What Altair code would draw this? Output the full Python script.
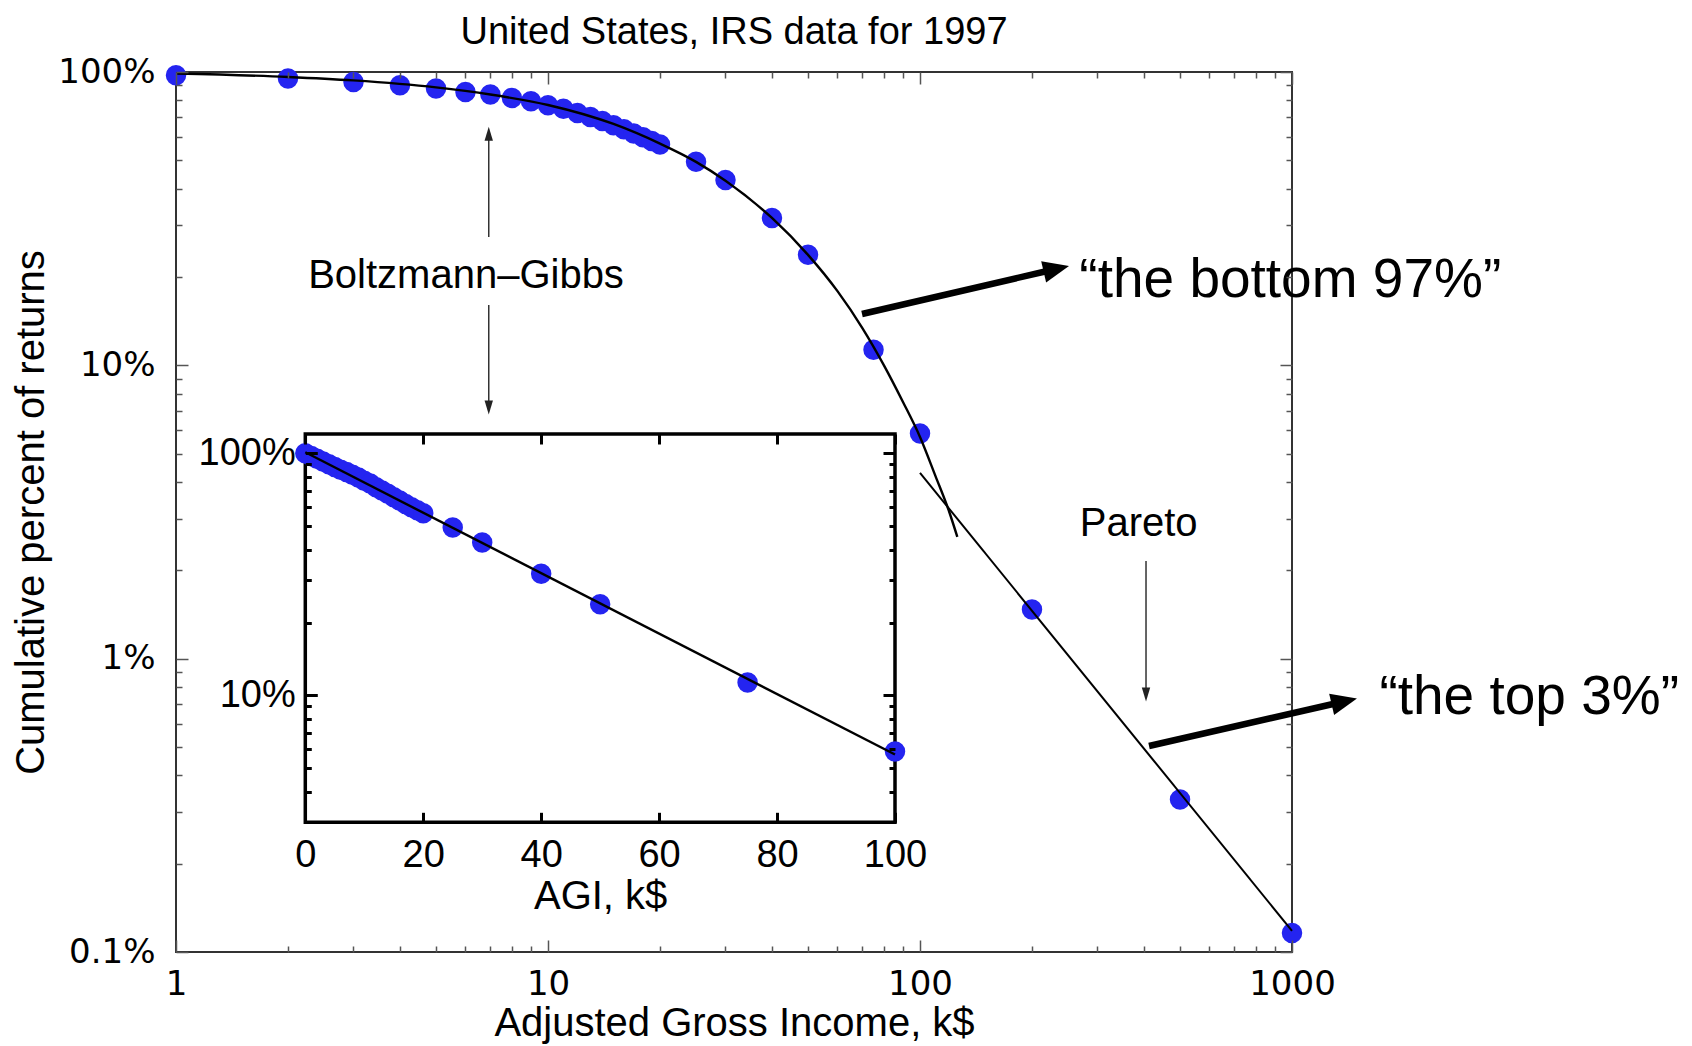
import altair as alt
import pandas as pd

# ---------------- data ----------------
agi = [1, 2, 3, 4, 5, 6, 7, 8, 9, 10, 11, 12, 13, 14, 15, 16, 17, 18, 19, 20,
       25, 30, 40, 50, 75, 100, 200, 500, 1000]
pct = [97.5, 95.0, 92.5, 90.1, 87.8, 85.5, 83.8, 81.6, 79.5, 77.0, 75.0, 72.5,
       70.3, 68.1, 65.8, 63.8, 61.7, 59.9, 58.2, 56.6,
       49.4, 42.8, 31.8, 23.8, 11.3, 5.86, 1.47, 0.331, 0.116]

# Boltzmann-Gibbs fit curve
bg_x = [1, 2, 3, 5, 7, 10, 15, 20, 25, 30, 40, 50, 60, 70, 80, 90, 100, 110, 120, 126]
bg_y = [98.8, 96.2, 93.6, 88.6, 83.8, 77.2, 66.5, 57.0, 49.4, 42.6, 31.8, 23.8,
        17.9, 13.4, 10.0, 7.5, 5.7, 4.2, 3.15, 2.6]
# Pareto fit line
par_x = [100, 1000]
par_y = [4.3, 0.118]

# inset (linear x, log y)
inset_agi = [0] + agi[:26]
inset_pct = [100.0] + pct[:26]
inset_line_x = [0, 100]
inset_line_y = [101.0, 5.7]
inset_x_domain = [0, 100]
inset_y_domain = [2.99, 120.2]

# tick values
main_x_major = [1, 10, 100, 1000]
main_x_minor = [2, 3, 4, 5, 6, 7, 8, 9, 20, 30, 40, 50, 60, 70, 80, 90,
                200, 300, 400, 500, 600, 700, 800, 900]
main_y_major = [0.1, 1, 10, 100]
main_y_minor = [0.2, 0.3, 0.4, 0.5, 0.6, 0.7, 0.8, 0.9, 2, 3, 4, 5, 6, 7, 8, 9,
                20, 30, 40, 50, 60, 70, 80, 90]
inset_x_major = [0, 20, 40, 60, 80, 100]
inset_y_major = [10, 100]
inset_y_minor = [3, 4, 5, 6, 7, 8, 9, 20, 30, 40, 50, 60, 70, 80, 90]

# annotations (data coordinates of the main panel)
lab_text = ["Boltzmann–Gibbs", "Pareto"]
lab_x = [6.02, 387]
lab_y = [18.4, 2.62]

big_text = ["“the bottom 97%”", "“the top 3%”"]
big_x = [268.1, 1718]
big_y = [17.06, 0.650]

thin_x = [6.93, 6.93, 405.1]
thin_y_from = [27.38, 16.06, 2.153]
thin_y_to = [61.95, 7.153, 0.7517]
thin_tip_y = [65.09, 6.798, 0.7150]
thin_angle = [0, 180, 180]

thick_x_from = [69.84, 412.7]
thick_y_from = [14.96, 0.5038]
thick_x_to = [222.9, 1325]
thick_y_to = [21.05, 0.7060]
thick_tip_x = [251.5, 1495]
thick_tip_y = [21.82, 0.7315]
thick_angle = [77, 77]

# ---------------- styling ----------------
FONT = "Liberation Sans"
TFONT = "DejaVu Sans"
BLUE = "#2424f0"
W, H = 1116, 880
GRAY = "#555555"
DOT = 420

MX = dict(type="log", domain=[1, 1000], nice=False)
MY = dict(type="log", domain=[0.1, 100], nice=False)
IX = dict(type="linear", domain=inset_x_domain, range=[129.3, 719.0], nice=False, zero=False)
IY = dict(type="log", domain=inset_y_domain, range=[750.3, 362.0], nice=False)

def tick_axis(orient, values, offset, size, color, width, title=None, title_pad=0):
    kw = dict(orient=orient, values=values, offset=offset, tickSize=size,
              tickColor=color, tickWidth=width, domain=False, grid=False,
              labels=False, zindex=1)
    if title:
        kw.update(title=title, titleFont=FONT, titleFontSize=40,
                  titleFontWeight="normal", titleColor="black", titlePadding=title_pad)
    else:
        kw.update(title=None)
    return alt.Axis(**kw)

main_df = pd.DataFrame({"agi": agi, "pct": pct})
bg_df = pd.DataFrame({"agi": bg_x, "pct": bg_y})
par_df = pd.DataFrame({"agi": par_x, "pct": par_y})
inset_df = pd.DataFrame({"agi": inset_agi, "pct": inset_pct})
inset_line_df = pd.DataFrame({"agi": inset_line_x, "pct": inset_line_y})
frame_df = pd.DataFrame({"x0": [inset_x_domain[0]], "x1": [inset_x_domain[1]],
                         "y0": [inset_y_domain[0]], "y1": [inset_y_domain[1]]})
lab_df = pd.DataFrame({"x": lab_x, "y": lab_y, "t": lab_text})
big_df = pd.DataFrame({"x": big_x, "y": big_y, "t": big_text})
thin_df = pd.DataFrame({"x": thin_x, "y0": thin_y_from, "y1": thin_y_to,
                        "ty": thin_tip_y, "a": thin_angle})
thick_df = pd.DataFrame({"x0": thick_x_from, "y0": thick_y_from, "x1": thick_x_to,
                         "y1": thick_y_to, "tx": thick_tip_x, "ty": thick_tip_y,
                         "a": thick_angle})

# main axes
ax_bottom_major = alt.Axis(orient="bottom", values=main_x_major, offset=-12, tickSize=12,
                           tickColor=GRAY, tickWidth=1.5, domain=False, grid=False,
                           format="d", labelFont=TFONT, labelFontSize=34, labelColor="black",
                           labelPadding=15, labelFlush=False, labelOverlap=False,
                           title=None, zindex=1)
ax_left_major = alt.Axis(orient="left", values=main_y_major, offset=-12, tickSize=12,
                         tickColor=GRAY, tickWidth=1.5, domain=False, grid=False,
                         labelExpr="datum.value + '%'", labelFont=TFONT, labelFontSize=34,
                         labelColor="black", labelPadding=21, labelFlush=False,
                         labelOverlap=False, title=None, zindex=1)

points = alt.Chart(main_df).mark_circle(size=DOT, color=BLUE, opacity=1).encode(
    x=alt.X("agi:Q", scale=alt.Scale(**MX), axis=ax_bottom_major),
    y=alt.Y("pct:Q", scale=alt.Scale(**MY), axis=ax_left_major),
)
bg_line = alt.Chart(bg_df).mark_line(color="black", strokeWidth=2.4, interpolate="monotone").encode(
    x=alt.X("agi:Q", scale=alt.Scale(**MX),
            axis=tick_axis("bottom", main_x_minor, -6, 6, GRAY, 1.5,
                           "Adjusted Gross Income, k$", 51)),
    y=alt.Y("pct:Q", scale=alt.Scale(**MY),
            axis=tick_axis("left", main_y_minor, -6, 6, GRAY, 1.5,
                           "Cumulative percent of returns", 124)),
)
par_line = alt.Chart(par_df).mark_line(color="black", strokeWidth=2).encode(
    x=alt.X("agi:Q", scale=alt.Scale(**MX), axis=tick_axis("top", main_x_major, -12, 12, GRAY, 1.5)),
    y=alt.Y("pct:Q", scale=alt.Scale(**MY), axis=tick_axis("right", main_y_major, -12, 12, GRAY, 1.5)),
)
thin_rules = alt.Chart(thin_df).mark_rule(color="#333333", strokeWidth=1.5).encode(
    x=alt.X("x:Q", scale=alt.Scale(**MX), axis=tick_axis("top", main_x_minor, -6, 6, GRAY, 1.5)),
    y=alt.Y("y0:Q", scale=alt.Scale(**MY), axis=tick_axis("right", main_y_minor, -6, 6, GRAY, 1.5)),
    y2="y1:Q",
)
thin_heads = alt.Chart(thin_df).mark_point(
    shape="M0,0L0.3,1L-0.3,1Z", size=784, filled=True, color="#222222", opacity=1, strokeWidth=0
).encode(
    x=alt.X("x:Q", scale=alt.Scale(**MX), axis=None),
    y=alt.Y("ty:Q", scale=alt.Scale(**MY), axis=None),
    angle=alt.Angle("a:Q", scale=None),
)
thick_rules = alt.Chart(thick_df).mark_rule(color="black", strokeWidth=6.5).encode(
    x=alt.X("x0:Q", scale=alt.Scale(**MX), axis=None),
    x2="x1:Q",
    y=alt.Y("y0:Q", scale=alt.Scale(**MY), axis=None),
    y2="y1:Q",
)
thick_heads = alt.Chart(thick_df).mark_point(
    shape="M0,0L0.42,1L-0.42,1Z", size=2704, filled=True, color="black", opacity=1, strokeWidth=0
).encode(
    x=alt.X("tx:Q", scale=alt.Scale(**MX), axis=None),
    y=alt.Y("ty:Q", scale=alt.Scale(**MY), axis=None),
    angle=alt.Angle("a:Q", scale=None),
)
labels = alt.Chart(lab_df).mark_text(font=FONT, fontSize=40, align="center",
                                     baseline="alphabetic", color="black").encode(
    x=alt.X("x:Q", scale=alt.Scale(**MX), axis=None),
    y=alt.Y("y:Q", scale=alt.Scale(**MY), axis=None),
    text="t:N",
)
big_labels = alt.Chart(big_df).mark_text(font=FONT, fontSize=55, align="left",
                                         baseline="alphabetic", color="black").encode(
    x=alt.X("x:Q", scale=alt.Scale(**MX), axis=None),
    y=alt.Y("y:Q", scale=alt.Scale(**MY), axis=None),
    text="t:N",
)

# inset
ax_in_bottom = alt.Axis(orient="bottom", values=inset_x_major, offset=-139.7, tickSize=10,
                        tickColor="black", tickWidth=3, domain=False, grid=False,
                        format="d", labelFont=FONT, labelFontSize=38, labelColor="black",
                        labelPadding=14, labelFlush=False, labelOverlap=False,
                        title="AGI, k$", titleFont=FONT, titleFontSize=40,
                        titleFontWeight="normal", titleColor="black", titlePadding=2, zindex=1)
ax_in_left = alt.Axis(orient="left", values=inset_y_major, offset=-141.3, tickSize=12,
                      tickColor="black", tickWidth=3, domain=False, grid=False,
                      labelExpr="datum.value + '%'", labelFont=FONT, labelFontSize=38,
                      labelColor="black", labelPadding=10, labelFlush=False,
                      labelOverlap=False, title=None, zindex=1)

in_frame = alt.Chart(frame_df).mark_rect(fill="white", stroke="black", strokeWidth=3.5).encode(
    x=alt.X("x0:Q", scale=alt.Scale(**IX), axis=None),
    x2="x1:Q",
    y=alt.Y("y0:Q", scale=alt.Scale(**IY),
            axis=tick_axis("right", inset_y_major, -409, 12, "black", 3)),
    y2="y1:Q",
)
in_minor = alt.Chart(inset_df).mark_point(opacity=0).encode(
    x=alt.X("agi:Q", scale=alt.Scale(**IX), axis=None),
    y=alt.Y("pct:Q", scale=alt.Scale(**IY),
            axis=tick_axis("right", inset_y_minor, -403, 6, "black", 3)),
)
in_points = alt.Chart(inset_df).mark_circle(size=DOT, color=BLUE, opacity=1).encode(
    x=alt.X("agi:Q", scale=alt.Scale(**IX), axis=ax_in_bottom),
    y=alt.Y("pct:Q", scale=alt.Scale(**IY), axis=ax_in_left),
)
in_line = alt.Chart(inset_line_df).mark_line(color="black", strokeWidth=2.4).encode(
    x=alt.X("agi:Q", scale=alt.Scale(**IX),
            axis=tick_axis("top", inset_x_major, -372, 10, "black", 3)),
    y=alt.Y("pct:Q", scale=alt.Scale(**IY),
            axis=tick_axis("left", inset_y_minor, -135.3, 6, "black", 3)),
)

chart = alt.layer(
    points, bg_line, par_line, thin_rules, thin_heads, thick_rules, thick_heads,
    labels, big_labels, in_frame, in_minor, in_points, in_line,
).resolve_scale(
    x="independent", y="independent"
).properties(
    width=W, height=H,
    background="white",
    title=alt.TitleParams("United States, IRS data for 1997", font=FONT, fontSize=38,
                          fontWeight="normal", color="black", offset=3, frame="group",
                          anchor="middle"),
    autosize=alt.AutoSizeParams(type="none"),
    padding={"left": 168, "top": 64, "right": 392, "bottom": 92},
).configure_view(
    stroke="#333333", strokeWidth=2
)

chart.save("out.html", embed_options={"renderer": "svg", "actions": False})
